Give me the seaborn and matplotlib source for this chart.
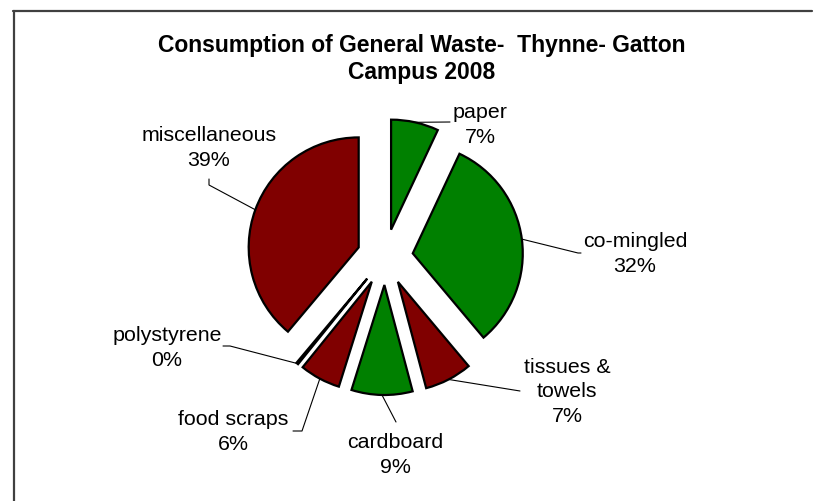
import numpy as np
import seaborn as sns
import matplotlib.pyplot as plt

# waste categories, clockwise from 12 o'clock
categories = ["paper", "co-mingled", "tissues &\ntowels", "cardboard",
              "food scraps", "polystyrene", "miscellaneous"]
shares = [7, 32, 7, 9, 6, 0.3, 39]
recyclable = [True, True, False, True, False, False, False]

W, H = 815, 502

sns.set_theme(style="white")
plt.rcParams['font.family'] = ['Liberation Sans', 'DejaVu Sans']

green, maroon = "#008000", "#800000"
colors = [green if r else maroon for r in recyclable]

fig = plt.figure(figsize=(W / 100, H / 100), dpi=100)
ax = fig.add_axes([0, 0, 1, 1])

# pie in pixel space (y measured upward); explode is in data units here
cx, cy, r = 385, H - 258, 110
wedges, _ = ax.pie(shares, colors=colors, startangle=90, counterclock=False,
                   explode=[28] * len(shares), radius=r, center=(cx, cy),
                   wedgeprops=dict(edgecolor="black", linewidth=1.6))

total = sum(shares)
labels = [f"{c}\n{v / total * 100:.0f}%" for c, v in zip(categories, shares)]

# label centre and leader elbow(s), in pixel coords (y down)
label_pos = [(480, 125), (635, 254), (567, 392), (395, 455),
             (233, 432), (167, 348), (209, 148)]
elbows = [[(450, 123)], [(578, 254), (581, 254)], [(520, 392)],
          [(396, 423)], [(302, 432), (293, 432)], [(230, 347), (223, 347)],
          [(209, 186), (209, 180)]]

for w, lab, pos, elb in zip(wedges, labels, label_pos, elbows):
    mid = np.deg2rad((w.theta1 + w.theta2) / 2)
    x0 = w.center[0] + w.r * np.cos(mid)
    y0 = w.center[1] + w.r * np.sin(mid)
    xs = [x0] + [e[0] for e in elb]
    ys = [y0] + [H - e[1] for e in elb]
    ax.plot(xs, ys, color="black", lw=0.8)
    ax.text(pos[0], H - pos[1], lab, ha="center", va="center",
            fontsize=15.4, color="black", linespacing=1.38)

ax.text(422, H - 59, "Consumption of General Waste-  Thynne- Gatton\nCampus 2008",
        ha="center", va="center", fontsize=16.5, fontweight="bold",
        color="black", linespacing=1.2)

# chart frame: the left and top edges are the only ones inside the image
ax.plot([14, 14], [0, H - 12], color="#404040", lw=1.6)
ax.plot([13.2, W - 3], [H - 12, H - 12], color="#404040", lw=1.6)

ax.set_xlim(0, W)
ax.set_ylim(0, H)
ax.set_aspect("auto")
ax.axis("off")

fig.savefig("out.png", dpi=100, facecolor="white", edgecolor="none")
